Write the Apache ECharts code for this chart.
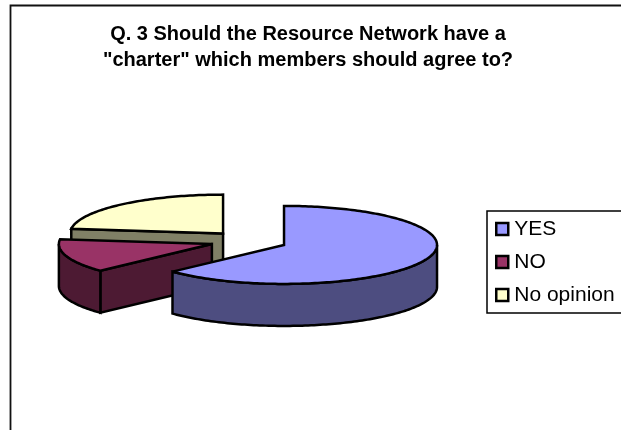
<!DOCTYPE html>
<html>
<head>
<meta charset="utf-8">
<style>html,body{margin:0;padding:0;background:#fff}#chart{width:621px;height:430px}</style>
<script src="https://cdn.jsdelivr.net/npm/echarts@6/dist/echarts.min.js"></script>
</head>
<body>
<div id="chart"></div>
<script>
// Survey answers, in percent
const categories = ['YES', 'NO', 'No opinion'];
const values = [63, 14, 23];
const topColors = ['#9999FF', '#993366', '#FFFFCC'];
const sideColors = ['#4D4D80', '#4D1A33', '#808066'];
const titleLines = ['Q. 3 Should the Resource Network have a', '"charter" which members should agree to?'];

// Tilted-pie projection
const centerX = 248.6, centerY = 241;
const radiusX = 153, radiusY = 39, depth = 42, explode = 38.6;
const OUTLINE = { stroke: '#000', lineWidth: 2.5, lineJoin: 'miter', miterLimit: 3 };

const total = values.reduce((a, b) => a + b, 0);
const startAngles = values.map((_, i) =>
  values.slice(0, i).reduce((a, b) => a + b, 0) / total * Math.PI * 2);

// Angles run clockwise from twelve o'clock
function onRim(cx, cy, a) {
  return [cx + radiusX * Math.sin(a), cy - radiusY * Math.cos(a)];
}
function arc(cx, cy, a0, a1) {
  const n = Math.max(2, Math.ceil(Math.abs(a1 - a0) / 0.02));
  const pts = [];
  for (let k = 0; k <= n; k++) pts.push(onRim(cx, cy, a0 + (a1 - a0) * k / n));
  return pts;
}
function drop(pts) { return pts.map(p => [p[0], p[1] + depth]); }
function face(points, fill, z2) {
  return { type: 'polygon', z2, shape: { points }, style: Object.assign({ fill }, OUTLINE) };
}

function sliceRenderer(i) {
  return function () {
    const a0 = startAngles[i];
    const a1 = a0 + values[i] / total * Math.PI * 2;
    const mid = (a0 + a1) / 2;
    const cx = centerX + explode * Math.sin(mid);
    const cy = centerY - explode * radiusY / radiusX * Math.cos(mid);
    const apex = [cx, cy];
    const side = sideColors[i];
    const children = [];
    let z = 1;
    // radial cut faces that turn toward the viewer
    if (Math.sin(a0) < -1e-6) {
      const edge = [apex, onRim(cx, cy, a0)];
      children.push(face(edge.concat(drop(edge).reverse()), side, z++));
    }
    if (Math.sin(a1) > 1e-6) {
      const edge = [apex, onRim(cx, cy, a1)];
      children.push(face(edge.concat(drop(edge).reverse()), side, z++));
    }
    // outer wall, front half of the rim only
    const w0 = Math.max(a0, Math.PI / 2), w1 = Math.min(a1, Math.PI * 1.5);
    if (w1 > w0) {
      const rim = arc(cx, cy, w0, w1);
      children.push(face(rim.concat(drop(rim).reverse()), side, z++));
    }
    // top face
    children.push(face([apex].concat(arc(cx, cy, a0, a1)), topColors[i], z++));
    return { type: 'group', children };
  };
}

const series = categories.map((name, i) => ({
  type: 'custom',
  name,
  coordinateSystem: 'none',
  // later answers sit behind earlier ones
  z: 10 - i,
  silent: true,
  animation: false,
  itemStyle: { color: topColors[i], borderColor: '#000', borderWidth: 2.5 },
  data: [values[i]],
  renderItem: sliceRenderer(i)
}));

const chart = echarts.init(document.getElementById('chart'), null, { renderer: 'canvas' });
chart.setOption({
  animation: false,
  backgroundColor: '#fff',
  title: {
    text: titleLines.join('\n'),
    left: 303, top: 16, textAlign: 'center',
    textStyle: { fontFamily: 'Liberation Sans', fontSize: 20, fontWeight: 'bold', color: '#000', lineHeight: 26 }
  },
  legend: {
    data: categories,
    orient: 'vertical',
    left: 487, top: 211,
    padding: [6, 30, 6, 8],
    itemGap: 9,
    itemWidth: 12, itemHeight: 12,
    icon: 'rect',
    itemStyle: { borderColor: '#000', borderWidth: 2.5 },
    borderColor: '#000', borderWidth: 1.5,
    selectedMode: false,
    textStyle: { fontFamily: 'Liberation Sans', fontSize: 21, color: '#000', lineHeight: 24, padding: [0, 0, 0, 1] }
  },
  graphic: [{
    type: 'polyline', silent: true, z: 0,
    shape: { points: [[10.5, 430], [10.5, 5.5], [621, 5.5]] },
    style: { stroke: '#111', lineWidth: 1.8, fill: null }
  }],
  series
});
</script>
</body>
</html>
